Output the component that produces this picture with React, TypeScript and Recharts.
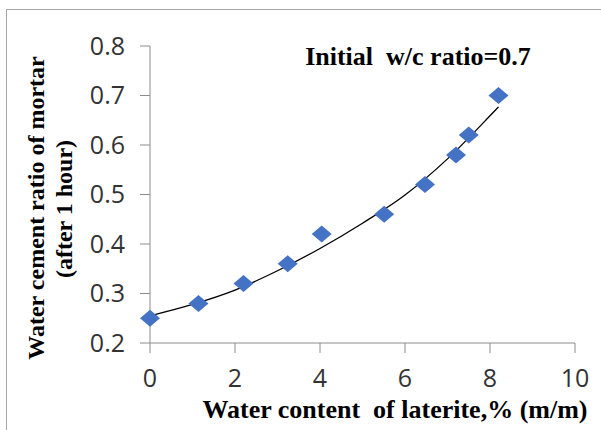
import { ComposedChart, Scatter, Line, XAxis, YAxis, Customized } from 'recharts';

const X_VALUES = [0, 1.14, 2.2, 3.24, 4.04, 5.51, 6.47, 7.2, 7.5, 8.2];
const Y_VALUES = [0.25, 0.28, 0.32, 0.36, 0.42, 0.46, 0.52, 0.58, 0.62, 0.7];
const TREND_X = [0, 1, 2, 3, 4, 5, 6, 7, 8, 8.2];
const TREND_Y = [0.255, 0.278, 0.307, 0.346, 0.391, 0.442, 0.499, 0.572, 0.659, 0.677];
const X_TICKS = [0, 2, 4, 6, 8, 10];
const Y_TICKS = [0.2, 0.3, 0.4, 0.5, 0.6, 0.7, 0.8];

const points = X_VALUES.map((x, i) => ({ x, y: Y_VALUES[i] }));
const trend = TREND_X.map((x, i) => ({ x, y: TREND_Y[i] }));

const AXIS = '#8c8c8c';
const SERIF = '"Liberation Serif", "Times New Roman", serif';
const tickStyle = {
  fontSize: 25,
  fill: '#333',
  style: { fontFamily: '"Open Sans", sans-serif', fontSize: 25 },
};

const Diamond = (props: any) => {
  const { cx, cy } = props;
  if (cx == null || cy == null) return <g />;
  const rx = 10;
  const ry = 8.5;
  return (
    <path
      d={`M${cx},${cy - ry}L${cx + rx},${cy}L${cx},${cy + ry}L${cx - rx},${cy}Z`}
      fill="#4472C4"
    />
  );
};

const Labels = () => (
  <g fontFamily={SERIF} fontWeight="bold" fill="#000">
    <text x={418} y={65} fontSize={26} textAnchor="middle" xmlSpace="preserve">
      {'Initial  w/c ratio=0.7'}
    </text>
    <text x={395} y={418} fontSize={26} textAnchor="middle" xmlSpace="preserve">
      {'Water content  of laterite,% (m/m)'}
    </text>
    <text x={44} y={208} fontSize={24} textAnchor="middle" transform="rotate(-90 44 208)">
      Water cement ratio of mortar
    </text>
    <text x={72} y={209} fontSize={24} textAnchor="middle" transform="rotate(-90 72 209)">
      (after 1 hour)
    </text>
  </g>
);

export default function App() {
  return (
    <div style={{ position: 'absolute', left: 0, top: 0, width: 601, height: 430, overflow: 'hidden', background: '#fff' }}>
      <div
        style={{
          position: 'absolute',
          left: 6,
          top: 9,
          width: 640,
          height: 460,
          border: '1px solid #a6a6a6',
        }}
      />
      <div style={{ position: 'absolute', left: 0, top: 0 }}>
        <ComposedChart width={601} height={430} margin={{ top: 46, right: 26, left: 0, bottom: 0 }}>
          <XAxis
            type="number"
            dataKey="x"
            domain={[0, 10]}
            ticks={X_TICKS}
            height={87}
            tickSize={10}
            tickMargin={16}
            stroke={AXIS}
            tick={tickStyle}
          />
          <YAxis
            type="number"
            dataKey="y"
            domain={[0.2, 0.8]}
            ticks={Y_TICKS}
            width={150}
            tickSize={10}
            tickMargin={15}
            stroke={AXIS}
            tick={tickStyle}
            tickFormatter={(v: number) => v.toFixed(1)}
          />
          <Line
            data={trend}
            dataKey="y"
            type="monotone"
            stroke="#000"
            strokeWidth={1.3}
            dot={false}
            activeDot={false}
            isAnimationActive={false}
          />
          <Scatter data={points} dataKey="y" shape={<Diamond />} isAnimationActive={false} />
          <Customized component={Labels} />
        </ComposedChart>
      </div>
    </div>
  );
}
